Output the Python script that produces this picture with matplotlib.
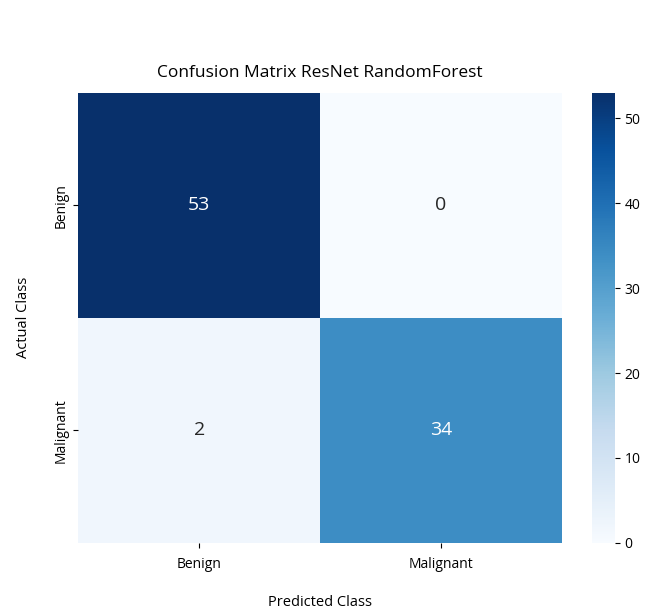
import numpy as np
import matplotlib
matplotlib.use("Agg")
import matplotlib.pyplot as plt
import seaborn as sns

plt.rcParams['font.family'] = ['Open Sans', 'DejaVu Sans']

labels = ["Benign", "Malignant"]
cm = np.array([[53, 0],
               [2, 34]])

fig = plt.figure(figsize=(6.52, 6.1), dpi=100)
ax = fig.add_axes([0.12, 0.11, 0.742, 0.738])
cax = fig.add_axes([0.908, 0.11, 0.035, 0.738])

sns.heatmap(cm, annot=True, fmt="d", cmap="Blues", ax=ax, cbar_ax=cax,
            xticklabels=labels, yticklabels=labels,
            annot_kws={"size": 14})
ax.set_title("Confusion Matrix ResNet RandomForest", fontsize=12.5, pad=11)
ax.set_xlabel("Predicted Class", fontsize=10.5, labelpad=16)
ax.set_ylabel("Actual Class", fontsize=10.5, labelpad=16)
ax.tick_params(axis="x", labelsize=10, pad=7)
ax.tick_params(axis="y", labelsize=10)
cax.tick_params(labelsize=10)
cax.set_yticks([0, 10, 20, 30, 40, 50])
for s in cax.spines.values():
    s.set_visible(False)

fig.savefig("out.png", dpi=100)
